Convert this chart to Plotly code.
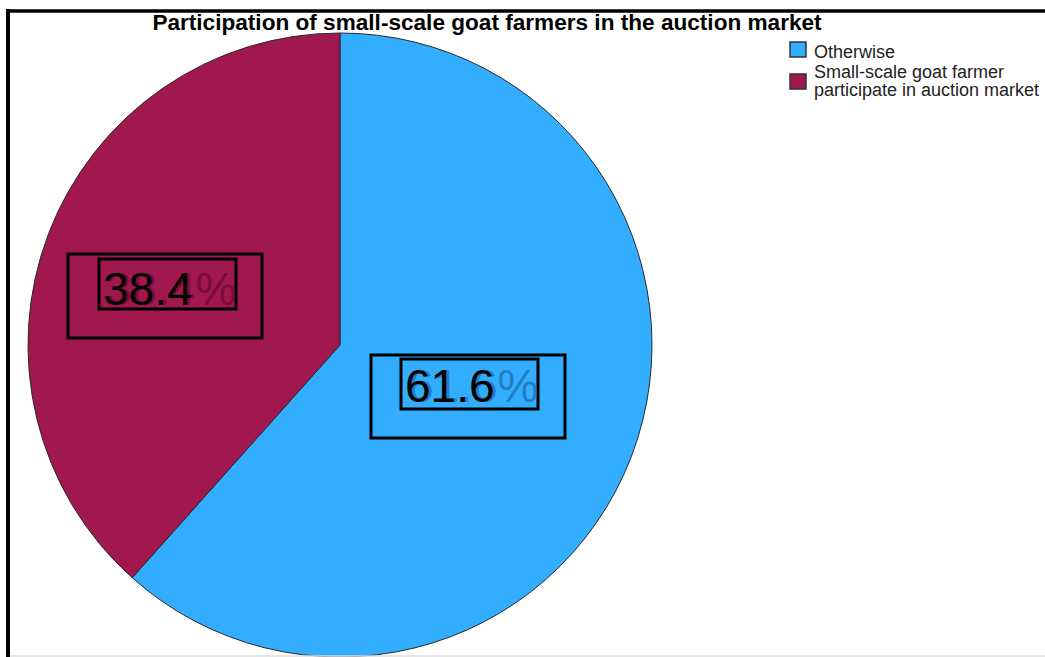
import plotly.graph_objects as go

# Survey result: share of small-scale goat farmers in the auction market
categories = ["Otherwise", "Small-scale goat farmer<br>participate in auction market"]
percentages = [61.6, 38.4]
slice_colors = ["#33ADFF", "#A0184D"]
label_shadow_colors = ["rgba(30,110,170,0.75)", "rgba(110,10,50,0.75)"]

W, H = 1045, 657
FONT = "Liberation Sans, Arial, sans-serif"

def px_x(x):
    return x / W

def px_y(y):
    return 1 - y / H

fig = go.Figure()

# Pie: centre about (340, 345) px, radius about 312 px
cx, cy, r = 340, 345, 312
fig.add_trace(go.Pie(
    labels=[c.replace("<br>", " ") for c in categories],
    values=percentages,
    sort=False,
    direction="clockwise",
    rotation=0,
    marker=dict(colors=slice_colors, line=dict(color="#2a2a2a", width=1)),
    textinfo="none",
    hoverinfo="label+percent",
    showlegend=False,
    domain=dict(x=[px_x(cx - r), px_x(cx + r)], y=[px_y(cy + r), px_y(cy - r)]),
))

shapes = []
annotations = []

# Value labels (boxed), placed inside each slice
label_pos = [
    dict(outer=(371, 355, 565, 438), inner=(401, 359, 538, 409), tx=403, ty=386),
    dict(outer=(68, 254, 262, 338), inner=(99, 259, 236, 309), tx=101, ty=289),
]
for val, shadow, pos in zip(percentages, label_shadow_colors, label_pos):
    for key in ("outer", "inner"):
        x0, y0, x1, y1 = pos[key]
        shapes.append(dict(type="rect", xref="paper", yref="paper",
                           x0=px_x(x0), x1=px_x(x1), y0=px_y(y1), y1=px_y(y0),
                           line=dict(color="black", width=3), fillcolor="rgba(0,0,0,0)"))
    # soft coloured copy with percent sign
    annotations.append(dict(text=f"{val:.1f}%", xref="paper", yref="paper",
                            x=px_x(pos["tx"] + 3), y=px_y(pos["ty"]), xanchor="left", yanchor="middle",
                            showarrow=False,
                            font=dict(family=FONT, size=46, color=shadow)))
    # black value on top
    annotations.append(dict(text=f"{val:.1f}", xref="paper", yref="paper",
                            x=px_x(pos["tx"]), y=px_y(pos["ty"]), xanchor="left", yanchor="middle",
                            showarrow=False,
                            font=dict(family=FONT, size=46, color="black")))

# Legend: swatch boxes and labels (one text line per annotation for tight spacing)
legend_items = [
    dict(box=(790, 42, 806, 57), lines=[52]),
    dict(box=(790, 74, 806, 89), lines=[72, 90]),
]
for cat, color, item in zip(categories, slice_colors, legend_items):
    x0, y0, x1, y1 = item["box"]
    shapes.append(dict(type="rect", xref="paper", yref="paper",
                       x0=px_x(x0), x1=px_x(x1), y0=px_y(y1), y1=px_y(y0),
                       line=dict(color="#333333", width=1.5), fillcolor=color))
    for line_text, ly in zip(cat.split("<br>"), item["lines"]):
        annotations.append(dict(text=line_text, xref="paper", yref="paper",
                                x=px_x(812), y=px_y(ly), xanchor="left", yanchor="middle",
                                showarrow=False,
                                font=dict(family=FONT, size=18, color="#222222")))

# Frame lines (left and top) and faint bottom rule
shapes.append(dict(type="line", xref="paper", yref="paper",
                   x0=px_x(8), x1=px_x(8), y0=px_y(9), y1=0, line=dict(color="black", width=4)))
shapes.append(dict(type="line", xref="paper", yref="paper",
                   x0=px_x(6), x1=1, y0=px_y(11), y1=px_y(11), line=dict(color="black", width=3.5)))
shapes.append(dict(type="line", xref="paper", yref="paper",
                   x0=px_x(10), x1=1, y0=px_y(656), y1=px_y(656), line=dict(color="#dddddd", width=1.5)))

fig.update_layout(
    width=W, height=H,
    margin=dict(l=0, r=0, t=0, b=0),
    paper_bgcolor="white",
    plot_bgcolor="white",
    title=dict(text="<b>Participation of small-scale goat farmers in the auction market</b>",
               x=px_x(487), xanchor="center", y=px_y(22), yanchor="middle",
               font=dict(family=FONT, size=22.6, color="black")),
    shapes=shapes,
    annotations=annotations,
)

fig.write_html("out.html")
